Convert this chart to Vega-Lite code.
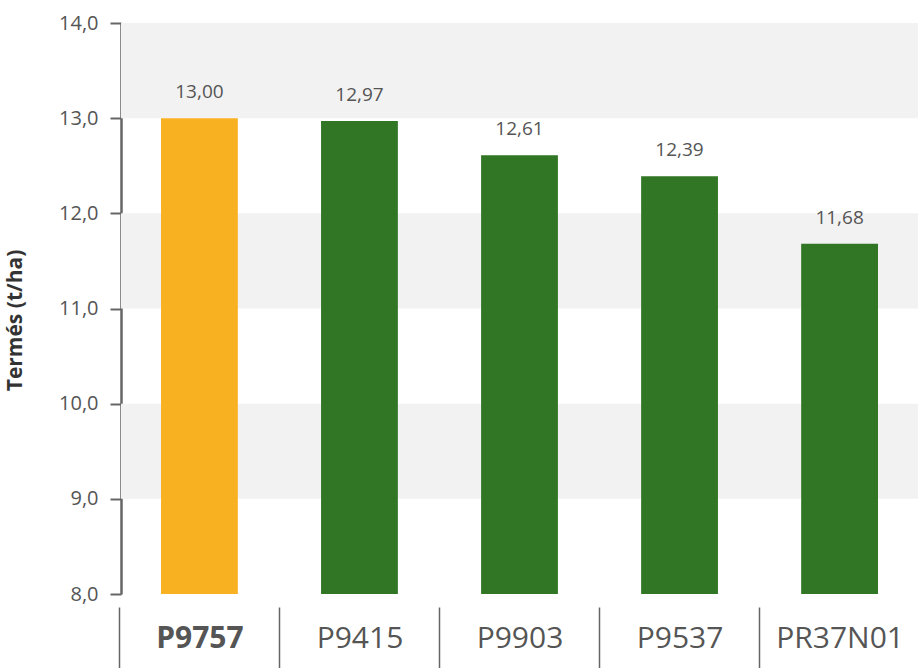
{
  "$schema": "https://vega.github.io/schema/vega-lite/v6.json",
  "width": 797,
  "height": 571,
  "autosize": "none",
  "padding": {"left": 121, "top": 23, "right": 0, "bottom": 74},
  "background": "white",
  "config": {
    "view": {"stroke": null},
    "font": "Open Sans",
    "locale": {"number": {"decimal": ",", "thousands": ".", "grouping": [3], "currency": ["", ""]}},
    "axis": {"titleFontSize": 21}
  },
  "datasets": {
    "bars": [
      {"variety": "P9757", "yield": 13.00, "group": "main"},
      {"variety": "P9415", "yield": 12.97, "group": "other"},
      {"variety": "P9903", "yield": 12.61, "group": "other"},
      {"variety": "P9537", "yield": 12.39, "group": "other"},
      {"variety": "PR37N01", "yield": 11.68, "group": "other"}
    ],
    "bands": [
      {"lo": 13, "hi": 14},
      {"lo": 11, "hi": 12},
      {"lo": 9, "hi": 10}
    ]
  },
  "layer": [
    {
      "data": {"name": "bands"},
      "mark": {"type": "rect", "color": "#f2f2f2"},
      "encoding": {
        "y": {
          "field": "lo", "type": "quantitative",
          "scale": {"domain": [8, 14], "nice": false, "zero": false},
          "axis": {
            "values": [8, 9, 10, 11, 12, 13, 14], "format": ".1f",
            "grid": false, "labelFontSize": 20, "labelColor": "#555",
            "tickSize": 11, "tickColor": "#666", "tickWidth": 2,
            "domainColor": "#666", "domainWidth": 2.5, "labelPadding": 12,
            "title": "Termés (t/ha)", "titleFontSize": 21, "titleFontWeight": "bold",
            "titleColor": "#333", "titleX": -96, "titleY": 297
          }
        },
        "y2": {"field": "hi"}
      }
    },
    {
      "data": {"name": "bars"},
      "mark": {"type": "bar"},
      "encoding": {
        "x": {
          "field": "variety", "type": "nominal", "sort": null,
          "scale": {"paddingInner": 0.52, "paddingOuter": 0.25},
          "axis": {
            "title": null, "offset": 13, "domain": false, "grid": false,
            "ticks": true, "tickSize": 61, "tickColor": "#666", "tickWidth": 1.5,
            "tickOffset": -80.1, "labelOffset": 80.1,
            "labelAngle": 0, "labelFontSize": 30, "labelColor": "#555",
            "labelPadding": -30, "labelBaseline": "middle",
            "labelFontWeight": {"condition": {"test": "datum.value === 'P9757'", "value": "bold"}, "value": "normal"}
          }
        },
        "y": {
          "field": "yield", "type": "quantitative",
          "axis": {
            "values": [8, 9, 10, 11, 12, 13, 14], "format": ".1f",
            "grid": false, "labelFontSize": 20, "labelColor": "#555",
            "tickSize": 11, "tickColor": "#666", "tickWidth": 2,
            "domainColor": "#666", "domainWidth": 2.5, "labelPadding": 12,
            "title": "Termés (t/ha)", "titleFontSize": 21, "titleFontWeight": "bold",
            "titleColor": "#333", "titleX": -96, "titleY": 297
          }
        },
        "y2": {"datum": 8},
        "color": {
          "field": "group", "type": "nominal",
          "scale": {"domain": ["main", "other"], "range": ["#F8B121", "#317624"]},
          "legend": null
        }
      }
    },
    {
      "data": {"name": "bars"},
      "mark": {"type": "text", "fontSize": 19, "color": "#555", "baseline": "alphabetic", "dy": -20},
      "encoding": {
        "x": {"field": "variety", "type": "nominal", "sort": null},
        "y": {"field": "yield", "type": "quantitative"},
        "text": {"field": "yield", "type": "quantitative", "format": ".2f"}
      }
    },
    {
      "mark": {"type": "rule", "color": "#666", "strokeWidth": 2.5},
      "encoding": {"y": {"datum": 8}}
    }
  ]
}
